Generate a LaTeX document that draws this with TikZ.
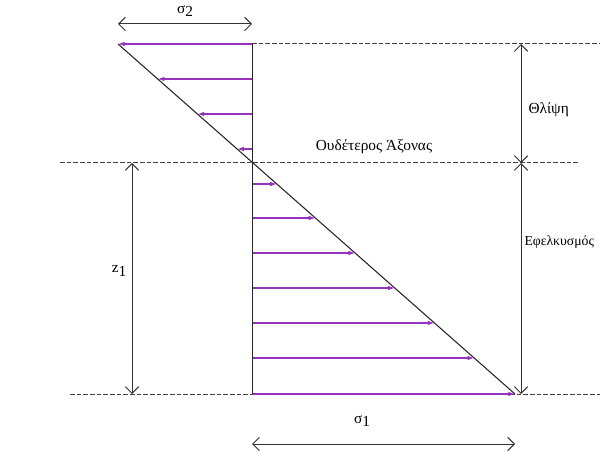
\documentclass[tikz,border=0pt]{standalone}
\usepackage{fontspec}
\setmainfont{Liberation Serif}
\usetikzlibrary{arrows.meta, positioning}
\definecolor{stressviolet}{RGB}{150,50,190}
\tikzstyle{dimline} = [line width=0.75pt, black!80,
    {Straight Barb[length=5pt,width=10pt]}-{Straight Barb[length=5pt,width=10pt]}]
\tikzstyle{stressarrow} = [stressviolet, line width=0.9pt, -{Latex[length=5pt,width=3.5pt]}]
\tikzstyle{guideline} = [line width=0.75pt, black!75, dash pattern=on 3.5pt off 1.5pt]
\tikzstyle{txt} = [inner sep=1pt, font=\fontsize{11.5}{13}\selectfont]

\begin{document}
\begin{tikzpicture}[x=0.75pt, y=-0.75pt]
  \clip (0,0) rectangle (600,452);

  % main points
  \coordinate (top)  at (252,44);
  \coordinate (na)   at (252,163);
  \coordinate (bot)  at (252,394);
  \coordinate (tipT) at (118,44);
  \coordinate (tipB) at (515,394);

  % dashed guide lines
  \draw[guideline] (top) -- (600,44);
  \draw[guideline] (60,163) -- (580,163);
  \draw[guideline] (70,394) -- (600,394);

  % stress arrows
  \foreach \y in {44,79,114,149,184,218,253,288,323,358,394}
    \draw[stressarrow] (252,\y) -- ({118+(\y-44)*1.1343},\y);

  % section and stress line
  \draw[line width=0.7pt, black!85] (top) -- (bot);
  \draw[line width=0.8pt, black!85] (tipT) -- (tipB);

  % dimensions
  \coordinate (s2a) at (118,24);  \coordinate (s2b) at (252,24);
  \coordinate (s1a) at (252,444); \coordinate (s1b) at (515,444);
  \coordinate (z1a) at (132,163); \coordinate (z1b) at (132,394);
  \coordinate (rT)  at (521,44);  \coordinate (rM) at (521,163);
  \coordinate (rB)  at (521,394);
  \draw[dimline] (s2a) -- (s2b);
  \draw[dimline] (s1a) -- (s1b);
  \draw[dimline] (z1a) -- (z1b);
  \draw[dimline] (rT) -- (rM);
  \draw[dimline] (rM) -- (rB);

  % labels
  \node (sig2) [txt] at (185,11) {σ\raisebox{-0.45ex}{2}};
  \node (sig1) [txt] at (362,421) {σ\raisebox{-0.45ex}{1}};
  \node (z1)   [txt] at (119,271) {z\raisebox{-0.45ex}{1}};
  \node (comp) [txt, anchor=west] at (527,110) {Θλίψη};
  \node (tens) [txt, anchor=west, font=\fontsize{10.3}{12}\selectfont] at (523,242) {Εφελκυσμός};
  \node (axis) [txt] at (374,147) {Ουδέτερος Άξονας};

\end{tikzpicture}
\end{document}
